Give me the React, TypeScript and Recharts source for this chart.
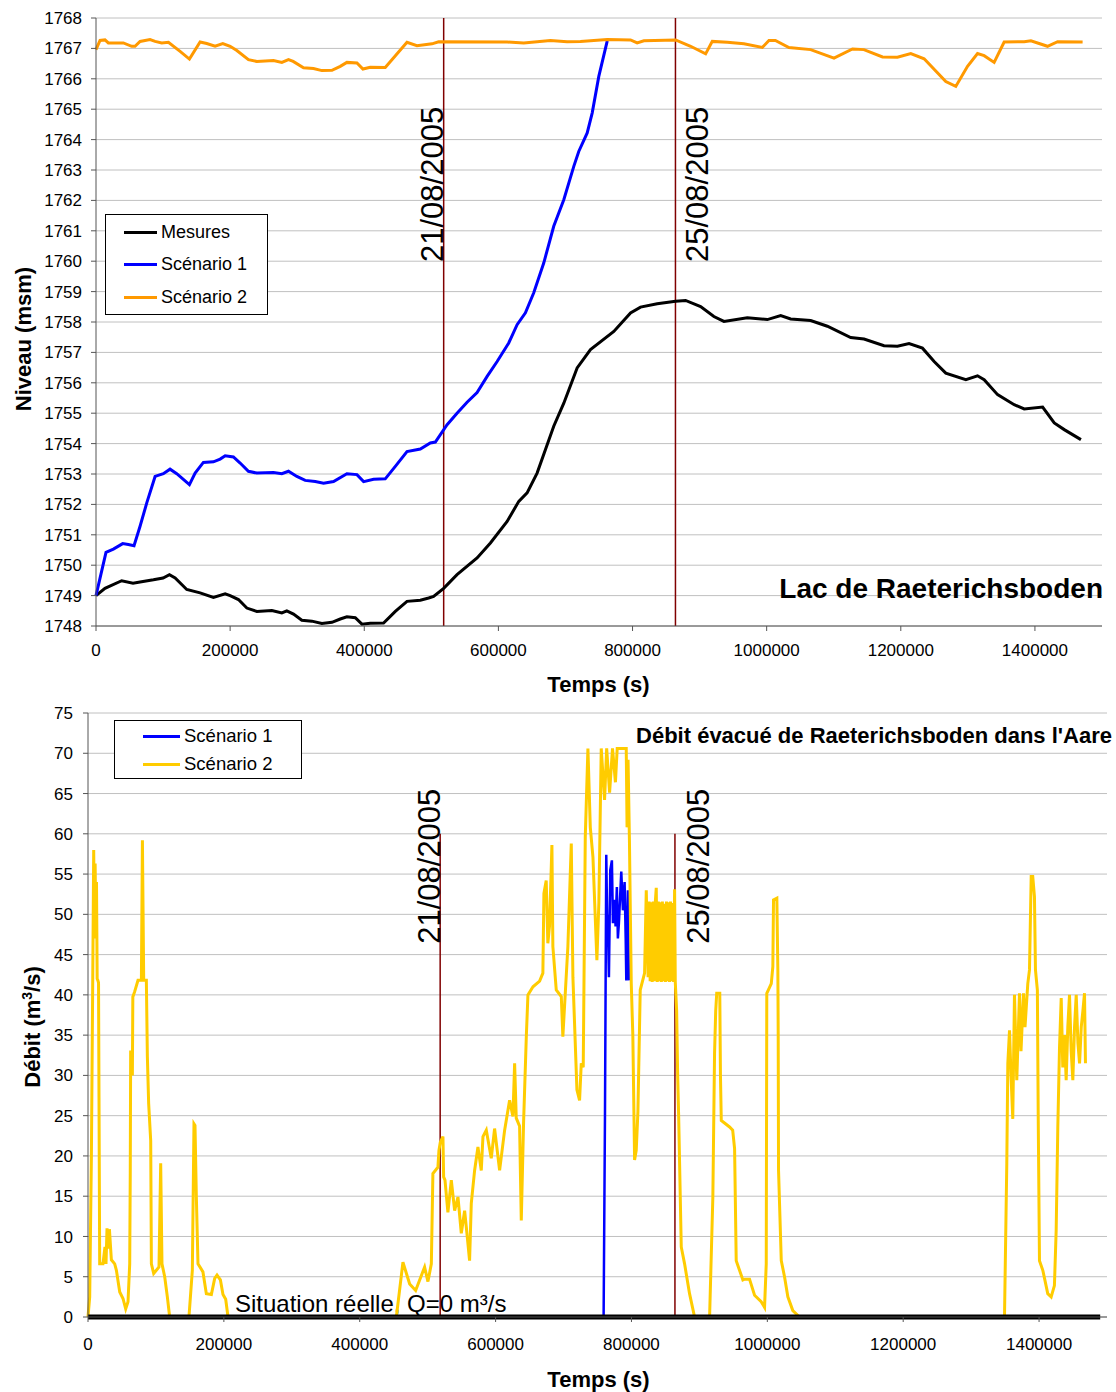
import React from 'react';
import { LineChart, Line, XAxis, YAxis, CartesianGrid, ReferenceLine, Legend } from 'recharts';

const FONT = '"Liberation Sans", Arial, Helvetica, sans-serif';

const TIME_TICKS = [0, 200000, 400000, 600000, 800000, 1000000, 1200000, 1400000];
const LEVEL_TICKS = [1748, 1749, 1750, 1751, 1752, 1753, 1754, 1755, 1756, 1757, 1758, 1759, 1760, 1761, 1762, 1763, 1764, 1765, 1766, 1767, 1768];
const FLOW_TICKS = [0, 5, 10, 15, 20, 25, 30, 35, 40, 45, 50, 55, 60, 65, 70, 75];

const DATE_MARKS = [
  { t: 518400, label: '21/08/2005' },
  { t: 864000, label: '25/08/2005' },
];

// niveau du lac (msm) - [temps s, niveau]
const MESURES: [number, number][] = [
  [0, 1749.0], [13400, 1749.24], [38300, 1749.49], [55200, 1749.41], [65700, 1749.45], [85600, 1749.52],
  [100000, 1749.58], [109500, 1749.69], [118000, 1749.58], [135300, 1749.2], [155200, 1749.09], [175100, 1748.94],
  [192600, 1749.06], [200000, 1749.0], [212400, 1748.87], [224900, 1748.59], [239800, 1748.48], [262200, 1748.51],
  [277100, 1748.43], [284500, 1748.5], [294500, 1748.39], [306900, 1748.19], [321900, 1748.16], [336800, 1748.08],
  [351800, 1748.12], [364200, 1748.23], [374100, 1748.3], [386600, 1748.27], [396500, 1748.06], [408900, 1748.09],
  [428800, 1748.1], [446300, 1748.48], [463700, 1748.81], [483600, 1748.85], [496000, 1748.92], [503400, 1748.97],
  [518400, 1749.24], [538300, 1749.69], [568200, 1750.24], [588100, 1750.73], [613000, 1751.44], [630400, 1752.1],
  [642800, 1752.38], [657700, 1753.03], [682500, 1754.57], [697500, 1755.33], [717400, 1756.49], [737300, 1757.09],
  [772100, 1757.69], [797000, 1758.3], [811900, 1758.49], [836800, 1758.6], [864200, 1758.68], [879100, 1758.71],
  [901500, 1758.51], [921300, 1758.18], [936300, 1758.02], [971100, 1758.14], [1001000, 1758.08], [1020900, 1758.21],
  [1035800, 1758.1], [1065600, 1758.05], [1090500, 1757.86], [1125300, 1757.49], [1145200, 1757.44], [1175000, 1757.22],
  [1195000, 1757.2], [1212300, 1757.29], [1232300, 1757.14], [1249700, 1756.7], [1267100, 1756.32], [1297000, 1756.1],
  [1314400, 1756.23], [1324300, 1756.1], [1344300, 1755.61], [1369100, 1755.28], [1384000, 1755.14], [1411500, 1755.2],
  [1428800, 1754.68], [1443700, 1754.46], [1468600, 1754.13],
];

const SCENARIO1_NIVEAU: [number, number][] = [
  [0, 1749.0], [14900, 1750.42], [25900, 1750.53], [39800, 1750.71], [48200, 1750.68], [56700, 1750.64],
  [65700, 1751.28], [75700, 1752.05], [88100, 1752.92], [100400, 1753.01], [110400, 1753.16], [120400, 1753.01],
  [139300, 1752.65], [147800, 1753.03], [160100, 1753.38], [175100, 1753.4], [185100, 1753.49], [192600, 1753.6],
  [204900, 1753.56], [214900, 1753.36], [227300, 1753.09], [239800, 1753.03], [264600, 1753.05], [277100, 1753.01],
  [287000, 1753.09], [299500, 1752.92], [311900, 1752.79], [326900, 1752.75], [339300, 1752.7], [354200, 1752.75],
  [374100, 1753.01], [389100, 1752.98], [399000, 1752.75], [413900, 1752.83], [431300, 1752.84], [446300, 1753.25],
  [463700, 1753.74], [483600, 1753.82], [498500, 1754.02], [506000, 1754.05], [523500, 1754.62], [538300, 1755.0],
  [553300, 1755.36], [568200, 1755.68], [583200, 1756.21], [598100, 1756.7], [615400, 1757.31], [627900, 1757.91],
  [640300, 1758.3], [652700, 1758.96], [667600, 1759.94], [682500, 1761.15], [697500, 1762.02], [712400, 1763.12],
  [719800, 1763.61], [732400, 1764.22], [739900, 1764.88], [749700, 1766.08], [762300, 1767.25],
];

const SCENARIO2_NIVEAU: [number, number][] = [
  [0, 1766.96], [6000, 1767.26], [13400, 1767.28], [18400, 1767.18], [40800, 1767.18], [53200, 1767.07],
  [58200, 1767.07], [65700, 1767.23], [80600, 1767.29], [88100, 1767.23], [98000, 1767.18], [108000, 1767.2],
  [125400, 1766.9], [139300, 1766.65], [155200, 1767.21], [165100, 1767.16], [177600, 1767.07], [189100, 1767.16],
  [200000, 1767.07], [210000, 1766.93], [227300, 1766.63], [239800, 1766.57], [264600, 1766.6], [277100, 1766.54],
  [287000, 1766.63], [294000, 1766.57], [309400, 1766.36], [324300, 1766.34], [336800, 1766.27], [351800, 1766.28],
  [364200, 1766.41], [374100, 1766.54], [389100, 1766.52], [398000, 1766.32], [408900, 1766.38], [431300, 1766.37],
  [463700, 1767.2], [478600, 1767.09], [501000, 1767.15], [510900, 1767.22], [613000, 1767.21], [637800, 1767.18],
  [677600, 1767.26], [702400, 1767.22], [722300, 1767.23], [762300, 1767.29], [797000, 1767.28], [806900, 1767.18],
  [816900, 1767.25], [864200, 1767.28], [886600, 1767.07], [909000, 1766.82], [918900, 1767.23], [941300, 1767.2],
  [966100, 1767.15], [993500, 1767.03], [1003400, 1767.26], [1013000, 1767.26], [1033200, 1767.03], [1065600, 1766.96],
  [1100400, 1766.68], [1127900, 1766.98], [1145000, 1766.96], [1172700, 1766.72], [1195000, 1766.71], [1214900, 1766.83],
  [1234800, 1766.66], [1267100, 1765.91], [1282000, 1765.75], [1299500, 1766.41], [1314400, 1766.83], [1324300, 1766.76],
  [1339200, 1766.54], [1354100, 1767.21], [1384000, 1767.22], [1394000, 1767.25], [1418800, 1767.07], [1433800, 1767.22],
  [1471100, 1767.21],
];

// débit évacué (m3/s) - [temps s, débit]
const SCENARIO1_DEBIT: [number, number][] = [
  [0, 0], [759000, 0], [761000, 25], [762900, 57.4], [764100, 50], [765300, 48.9], [766800, 42.2], [768800, 55.5],
  [771200, 56.7], [772700, 48.9], [775100, 51.8], [776600, 48.5], [778500, 53.4], [780000, 47], [781500, 48.9],
  [785000, 55.3], [787400, 50.5], [789900, 54.0], [791500, 47], [792400, 41.8], [794700, 53.0], [796200, 41.8],
];

const SCENARIO2_DEBIT: [number, number][] = [
  [0, 0], [2500, 2.5], [5000, 20], [8400, 58], [9500, 47], [10500, 56.3], [11500, 48], [12500, 54], [13500, 42],
  [14500, 41.8], [15500, 41.5], [16200, 27.3], [17200, 6.6], [22000, 6.6], [25000, 8.7], [26500, 6.6], [28000, 11.0],
  [30000, 8.5], [31500, 10.9], [34400, 7.1], [39300, 6.6], [41800, 5.8], [46700, 3.1], [51500, 2.3], [55500, 1.0],
  [58900, 1.9], [61400, 6.6], [62200, 17.8], [62800, 33.1], [65300, 30.0], [66000, 39.75], [68700, 40.4], [73600, 41.8],
  [78600, 41.8], [80100, 59.2], [82000, 41.8], [85900, 41.8], [87400, 32.3], [89300, 26.5], [92300, 21.9], [93300, 6.6],
  [96700, 5.4], [104500, 6.2], [107000, 19.1], [108900, 6.6], [112900, 5.0], [116800, 2.5], [120200, 0], [148600, 0],
  [153600, 5.8], [156000, 24.0], [157500, 23.8], [159500, 14.9], [161900, 6.6], [169200, 5.6], [174200, 2.9],
  [181600, 2.8], [186500, 4.8], [189900, 5.2], [194900, 4.6], [198700, 2.8], [202700, 2.2], [206100, 0],
  [453900, 0], [463600, 6.8], [473500, 4.1], [482300, 3.3], [495500, 6.2], [500400, 4.4], [505400, 6.6], [507700, 17.8],
  [515100, 18.6], [516600, 20.7], [518600, 21.7], [522500, 22.4], [523500, 17.4], [525500, 17.0], [529800, 13.0],
  [534800, 17.0], [539700, 13.2], [544600, 14.9], [549500, 10.4], [554400, 13.2], [557800, 10.4], [561700, 7.0],
  [564200, 14.1], [569100, 18.2], [574000, 21.1], [578900, 18.2], [581400, 22.4], [586300, 23.2], [593600, 19.7],
  [598500, 23.4], [605900, 18.2], [613300, 23.2], [620600, 26.9], [625500, 24.9], [628000, 31.5], [630400, 24.7],
  [635300, 23.7], [637800, 12.0], [641200, 24.2], [645200, 34.8], [647600, 40.0], [655000, 41.0], [664800, 41.7],
  [669600, 42.7], [671100, 52.6], [674500, 54.2], [676900, 46.4], [679400, 48.6], [682900, 58.6], [684300, 46.0],
  [689300, 40.6], [696700, 39.8], [699000, 34.8], [706400, 46.0], [711400, 58.8], [713800, 42.2], [719700, 28.2],
  [723600, 26.9], [726100, 31.5], [729000, 31.0], [732000, 59.6], [735900, 70.6], [739400, 60.8], [743300, 57.1],
  [749100, 44.3], [752000, 51.4], [755500, 70.6], [760400, 64.2], [763500, 70.6], [767800, 65.1], [772100, 70.6],
  [776400, 66.4], [779000, 70.6], [792300, 70.6], [793500, 60.8], [795000, 69.2], [797000, 59.2], [799700, 41.4],
  [802000, 35.0], [804600, 19.5], [807000, 20.7], [809500, 25.5], [812900, 40.6], [819300, 42.7], [821800, 53.0],
  [824500, 42.2], [826000, 51.6], [827500, 41.7], [829000, 51.5], [830500, 41.6], [832000, 51.6], [833500, 41.7],
  [835000, 51.4], [836500, 53.3], [838000, 41.6], [839500, 51.6], [841000, 41.7], [842500, 51.5], [844000, 41.6],
  [845500, 51.6], [847000, 41.7], [848500, 51.3], [850000, 41.6], [851500, 51.6], [853000, 41.7], [854500, 51.5],
  [856000, 41.6], [857500, 51.6], [859000, 41.7], [860500, 51.4], [862000, 41.6], [863500, 53.1], [864500, 41.6],
  [866500, 38], [868000, 30], [869500, 24.8], [873300, 8.7], [878200, 6.6], [885500, 2.9], [892900, 0],
  [915000, 0], [919800, 14.9], [922300, 32.7], [924000, 38], [925500, 40.2], [930000, 40.2], [931000, 30],
  [932200, 24.4], [944400, 23.6], [949000, 23.2], [951800, 20.9], [954200, 7.0], [964000, 4.6], [966500, 4.7],
  [973800, 4.7], [981200, 2.7], [991000, 1.9], [995900, 1.2], [998400, 6.6], [999200, 40.2], [1005800, 41.4],
  [1008100, 43.5], [1009100, 51.8], [1014000, 52.0], [1015500, 43.0], [1016000, 35], [1016500, 18.2], [1020500, 7.0],
  [1025300, 5.0], [1030200, 2.5], [1037500, 0.8], [1047400, 0],
  [1349100, 0], [1352500, 19.1], [1354000, 31.5], [1356500, 35.6], [1358700, 30], [1361300, 24.6], [1363800, 40.0],
  [1367200, 29.4], [1371200, 40.2], [1373400, 33], [1377100, 40.2], [1379300, 36], [1383400, 41.4], [1385900, 43.1],
  [1388400, 54.7], [1390700, 54.7], [1393200, 52.2], [1394700, 43.1], [1397500, 40.6], [1398800, 24.4], [1400600, 7.0],
  [1405500, 5.8], [1412800, 2.9], [1417800, 2.5], [1422600, 3.9], [1425200, 10.8], [1427600, 23.6], [1430100, 33.5],
  [1432600, 39.6], [1434900, 31], [1437500, 35], [1439900, 29.4], [1442300, 36], [1444800, 40], [1447300, 33],
  [1449700, 29.4], [1452200, 36], [1454700, 40], [1457200, 34], [1459600, 31.5], [1462100, 36], [1464500, 38],
  [1466900, 40.2], [1468300, 31.5],
];

const SITUATION_REELLE: [number, number][] = [[0, 0], [1490000, 0]];

const toRows = (pts: [number, number][]) => pts.map(([t, v]) => ({ t, v }));

const AXIS_COLOR = '#555';
const GRID_COLOR = '#c0c0c0';
const DATE_COLOR = '#800000';

function dateLabel(text: string, dx: number, fromTop: number) {
  return (props: any) => {
    const vb = props.viewBox || { x: 0, y: 0 };
    const x = vb.x + dx;
    const y = vb.y + fromTop;
    return (
      <text x={x} y={y} transform={`rotate(-90 ${x} ${y})`} fontSize={31} fontFamily={FONT} fill="#000">
        {text}
      </text>
    );
  };
}

function BoxLegend(props: any) {
  const { payload, rowHeight, fontSize, padLeft, sample } = props;
  const items = (payload || []).filter((p: any) => p.type !== 'none' && p.value !== 'Situation réelle');
  return (
    <div style={{ border: '1px solid #000', background: '#fff', paddingLeft: padLeft, paddingTop: 1, boxSizing: 'border-box', fontFamily: FONT }}>
      {items.map((p: any) => (
        <div key={p.value} style={{ display: 'flex', alignItems: 'center', height: rowHeight }}>
          <span style={{ display: 'inline-block', width: sample, height: 3, background: p.color, marginRight: 4 }} />
          <span style={{ fontSize, color: '#000', whiteSpace: 'nowrap' }}>{p.value}</span>
        </div>
      ))}
    </div>
  );
}

const tickStyle = { fill: '#000', fontSize: 17, fontFamily: FONT };
const DATE_DX = [-1, 33];

function NiveauChart() {
  return (
    <LineChart width={1116} height={700} margin={{ top: 18, right: 14, bottom: 34, left: 0 }}>
      <CartesianGrid vertical={false} stroke={GRID_COLOR} />
      <XAxis
        type="number"
        dataKey="t"
        domain={[0, 1500000]}
        ticks={TIME_TICKS}
        interval={0}
        height={40}
        tick={tickStyle}
        tickSize={5}
        tickMargin={13}
        axisLine={{ stroke: AXIS_COLOR }}
        tickLine={{ stroke: AXIS_COLOR }}
      />
      <YAxis
        type="number"
        domain={[1748, 1768]}
        ticks={LEVEL_TICKS}
        interval={0}
        width={96}
        tick={tickStyle}
        tickSize={5}
        tickMargin={9}
        axisLine={{ stroke: AXIS_COLOR }}
        tickLine={{ stroke: AXIS_COLOR }}
      />
      {DATE_MARKS.map((d, i) => (
        <ReferenceLine key={d.label} x={d.t} stroke={DATE_COLOR} strokeWidth={1.5} label={dateLabel(d.label, DATE_DX[i], 244)} />
      ))}
      <Line data={toRows(MESURES)} dataKey="v" name="Mesures" stroke="#000" strokeWidth={3} dot={false} type="linear" isAnimationActive={false} />
      <Line data={toRows(SCENARIO1_NIVEAU)} dataKey="v" name="Scénario 1" stroke="#0000ff" strokeWidth={3} dot={false} type="linear" isAnimationActive={false} />
      <Line data={toRows(SCENARIO2_NIVEAU)} dataKey="v" name="Scénario 2" stroke="#ff9900" strokeWidth={3} dot={false} type="linear" isAnimationActive={false} />
      <Legend
        layout="vertical"
        align="center"
        verticalAlign="middle"
        wrapperStyle={{ left: 105, top: 214, width: 163, height: 99 }}
        content={(p: any) => <BoxLegend payload={p.payload} rowHeight={32.5} fontSize={18} padLeft={18} sample={33} />}
      />
      <text x={31} y={339} transform="rotate(-90 31 339)" textAnchor="middle" fontSize={22} fontWeight="bold" fontFamily={FONT} fill="#000">
        Niveau (msm)
      </text>
      <text x={598.5} y={692} textAnchor="middle" fontSize={22} fontWeight="bold" fontFamily={FONT} fill="#000">
        Temps (s)
      </text>
      <text x={1103} y={598} textAnchor="end" fontSize={28} fontWeight="bold" fontFamily={FONT} fill="#000">
        Lac de Raeterichsboden
      </text>
    </LineChart>
  );
}

function DebitChart() {
  return (
    <LineChart width={1116} height={692} margin={{ top: 13, right: 9, bottom: 35, left: 0 }}>
      <CartesianGrid vertical={false} stroke={GRID_COLOR} />
      <XAxis
        type="number"
        dataKey="t"
        domain={[0, 1500000]}
        ticks={TIME_TICKS}
        interval={0}
        height={40}
        tick={tickStyle}
        tickSize={5}
        tickMargin={16}
        axisLine={{ stroke: AXIS_COLOR }}
        tickLine={{ stroke: AXIS_COLOR }}
      />
      <YAxis
        type="number"
        domain={[0, 75]}
        ticks={FLOW_TICKS}
        interval={0}
        width={88}
        tick={tickStyle}
        tickSize={5}
        tickMargin={10}
        axisLine={{ stroke: AXIS_COLOR }}
        tickLine={{ stroke: AXIS_COLOR }}
      />
      {DATE_MARKS.map((d, i) => (
        <ReferenceLine
          key={d.label}
          segment={[{ x: d.t, y: 0 }, { x: d.t, y: 60 }]}
          stroke={DATE_COLOR}
          strokeWidth={1.5}
          label={dateLabel(d.label, DATE_DX[i] + 1, 110)}
        />
      ))}
      <Line data={toRows(SCENARIO1_DEBIT)} dataKey="v" name="Scénario 1" stroke="#0000ff" strokeWidth={2.5} dot={false} type="linear" isAnimationActive={false} />
      <Line data={toRows(SCENARIO2_DEBIT)} dataKey="v" name="Scénario 2" stroke="#ffcc00" strokeWidth={3} dot={false} type="linear" isAnimationActive={false} />
      <Line data={toRows(SITUATION_REELLE)} dataKey="v" name="Situation réelle" legendType="none" stroke="#000" strokeWidth={5} dot={false} type="linear" isAnimationActive={false} />
      <Legend
        layout="vertical"
        align="center"
        verticalAlign="middle"
        wrapperStyle={{ left: 114, top: 20, width: 188, height: 57 }}
        content={(p: any) => <BoxLegend payload={p.payload} rowHeight={28} fontSize={18.5} padLeft={28} sample={37} />}
      />
      <text x={40} y={327} transform="rotate(-90 40 327)" textAnchor="middle" fontSize={22} fontWeight="bold" fontFamily={FONT} fill="#000">
        Débit (m<tspan dy={-8} fontSize={14}>3</tspan><tspan dy={8}>/s)</tspan>
      </text>
      <text x={598.5} y={687} textAnchor="middle" fontSize={22} fontWeight="bold" fontFamily={FONT} fill="#000">
        Temps (s)
      </text>
      <text x={1112} y={43} textAnchor="end" fontSize={22} fontWeight="bold" fontFamily={FONT} fill="#000">
        Débit évacué de Raeterichsboden dans l'Aare
      </text>
      <text x={235} y={612} fontSize={24} fontFamily={FONT} fill="#000">
        Situation réelle, Q=0 m³/s
      </text>
    </LineChart>
  );
}

export default function App() {
  return (
    <div style={{ position: 'absolute', left: 0, top: 0, width: 1116, height: 1392, background: '#fff' }}>
      <div style={{ position: 'absolute', left: 0, top: 0 }}>
        <NiveauChart />
      </div>
      <div style={{ position: 'absolute', left: 0, top: 700 }}>
        <DebitChart />
      </div>
    </div>
  );
}
